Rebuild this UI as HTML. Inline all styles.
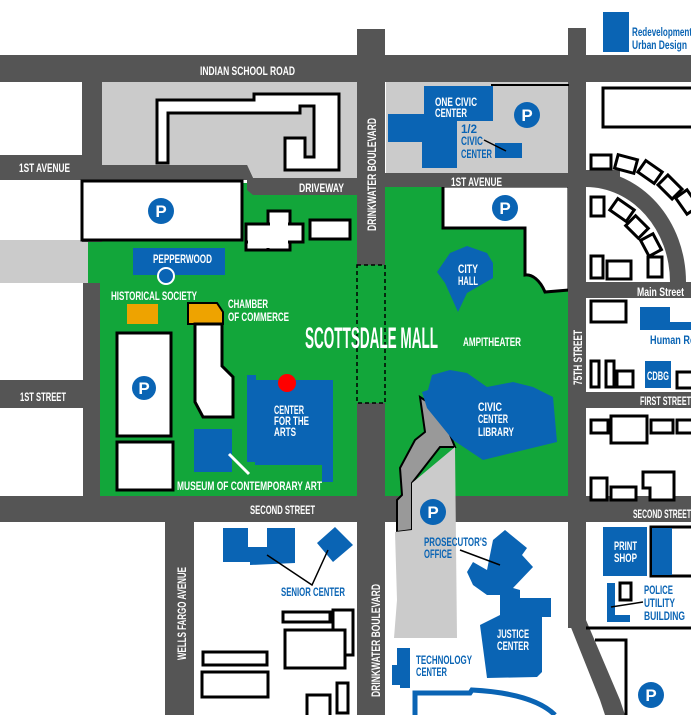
<!DOCTYPE html>
<html><head><meta charset="utf-8"><style>
html,body{margin:0;padding:0;background:#fff;}
svg{display:block;}
text{font-family:"Liberation Sans Narrow","Liberation Sans",sans-serif;font-weight:bold;}
.w{fill:#fff}.b{fill:#0a64b4}
.bl{fill:#fff;stroke:#000;stroke-width:3}
</style></head><body>
<svg width="691" height="715" viewBox="0 0 691 715" xmlns="http://www.w3.org/2000/svg">
<rect width="691" height="715" fill="#fff"/>
<!-- light gray areas -->
<rect x="0" y="240" width="90" height="43" fill="#cbcbcb"/>
<!-- green left -->
<rect x="88" y="183" width="270" height="313" fill="#12a63a"/>
<!-- green right -->
<polygon points="385,186 569,186 569,504 385,504" fill="#12a63a"/>
<path d="M443,186 L569,186 L569,290 L545,292 C540,280 532,274 525,275 L525,228 L443,228 Z" class="bl" stroke-width="2.5"/>
<!-- roads -->
<g fill="#555">
<rect x="0" y="55" width="691" height="27"/>
<rect x="357" y="29" width="28" height="686"/>
<rect x="568" y="28" width="18" height="600"/>
<polygon points="568,620 586,620 620,700 625,715 605,715 600,700"/>
<rect x="0" y="155" width="357" height="25"/>
<rect x="82" y="82" width="20" height="160"/>
<rect x="83" y="283" width="17" height="214"/>
<rect x="0" y="380" width="85" height="28"/>
<rect x="385" y="173" width="185" height="14"/>
<rect x="0" y="496" width="691" height="26"/>
<rect x="165" y="522" width="29" height="193"/>
<rect x="586" y="282" width="105" height="16"/>
<rect x="586" y="392" width="105" height="16"/>
<path d="M586,170 L586,187 A84,95 0 0 1 670,282 L686,282 A100,112 0 0 0 586,170 Z"/>
<polygon points="586,170 620,170 620,187 586,187"/>
</g>
<!-- light gray north-west block -->
<polygon points="102,82 357,82 357,178 253,178 247,165 102,165" fill="#cbcbcb"/>
<rect x="253" y="178" width="104" height="17" fill="#555"/>
<polygon points="247,165 253,178 253,195 247,190" fill="#555"/>
<rect x="386" y="82" width="182" height="91" fill="#cbcbcb"/>
<line x1="491" y1="85" x2="569" y2="85" stroke="#000" stroke-width="2"/>
<!-- top building outline -->
<path d="M157,100 L254,100 L254,94 L339,94 L339,170 L285,170 L285,138 L305,138 L305,157 L314,157 L314,106 L300,106 L300,113 L168,113 L168,163 L157,163 Z" class="bl"/>
<!-- parking -->
<rect x="82" y="181" width="160" height="59" class="bl"/>
<rect x="246" y="224" width="40" height="26" class="bl"/>
<rect x="268" y="211" width="22" height="39" class="bl"/>
<rect x="246" y="224" width="57" height="18" class="bl"/>
<rect x="248" y="226" width="40" height="22" fill="#fff"/>
<rect x="270" y="213" width="18" height="20" fill="#fff"/>
<rect x="310" y="220" width="40" height="19" class="bl"/>
<!-- pepperwood -->
<rect x="133" y="248" width="92" height="27" class="b"/>
<circle cx="166" cy="276" r="8" fill="#0a64b4" stroke="#fff" stroke-width="2"/>
<rect x="127" y="304" width="31" height="20" fill="#eea300"/>
<polygon points="188,303 217,303 223,312 223,324 188,324" fill="#eea300" stroke="#000" stroke-width="2"/>
<polygon points="195,324 222,324 222,366 233,377 233,417 203,417 195,402" class="bl"/>
<rect x="117" y="333" width="54" height="103" class="bl"/>
<rect x="117" y="442" width="56" height="48" class="bl"/>
<rect x="194" y="429" width="38" height="43" class="b"/>
<line x1="229" y1="454" x2="249" y2="474" stroke="#fff" stroke-width="3"/>
<polygon points="247,375 256,375 256,380 333,380 333,482 322,482 322,465 255,465 255,462 247,462" class="b"/>
<circle cx="287" cy="383" r="9" fill="#f00"/>
<!-- mall crossing -->
<rect x="357" y="265" width="28" height="138" fill="#12a63a" stroke="#000" stroke-width="1.5" stroke-dasharray="4,3"/>
<!-- one civic center -->
<polygon points="424,86 493,86 493,121 457,121 457,168 422,168 422,142 388,142 388,114 424,114" class="b"/>
<rect x="495" y="143" width="27" height="15" class="b"/>
<line x1="484" y1="140" x2="506" y2="151" stroke="#000" stroke-width="1.5"/>
<!-- city hall -->
<polygon points="437,272 450,253 467,246 487,253 493,263 493,278 467,293 458,312 445,283" class="b"/>
<!-- library/path -->
<polygon points="420,397 440,410 455,447 440,447 412,483 412,530 397,532 397,500 402,495 400,468 415,440 425,432" fill="#999" stroke="#000" stroke-width="2"/>
<polygon points="412,483 455,447 457,638 394,638 397,600 395,532 412,530" fill="#cbcbcb"/>
<polygon points="432,375 450,370 467,373 487,387 513,382 533,387 553,397 557,442 483,460 453,440 427,408 422,392 428,390" class="b"/>
<!-- prosecutor / justice -->
<polygon points="493,540 505,530 527,548 522,555 533,567 513,588 520,590 520,598 551,598 551,617 542,617 542,672 537,677 487,678 480,625 500,615 500,595 487,595 473,585 467,572 473,562 487,570" class="b"/>
<line x1="460" y1="550" x2="500" y2="565" stroke="#000" stroke-width="1.5"/>
<polygon points="397,648 410,648 410,688 400,688 400,685 392,685 392,665 397,665" class="b"/>
<path d="M415,715 L415,693 L470,693 L472,690 C510,692 540,700 555,715" fill="none" stroke="#0a64b4" stroke-width="5"/>
<!-- senior center -->
<polygon points="223,528 248,528 248,547 267,547 267,528 295,528 295,563 250,565 250,562 223,562" class="b"/>
<polygon points="335,527 353,545 333,562 317,543" class="b"/>
<polyline points="267,555 312,585 328,550" fill="none" stroke="#000" stroke-width="1.5"/>
<!-- bottom left buildings -->
<rect x="203" y="652" width="64" height="13" class="bl"/>
<rect x="202" y="672" width="66" height="25" class="bl"/>
<rect x="283" y="612" width="47" height="10" class="bl"/>
<rect x="333" y="610" width="20" height="45" class="bl"/>
<rect x="285" y="630" width="60" height="38" class="bl"/>
<rect x="307" y="695" width="23" height="22" class="bl"/>
<rect x="337" y="683" width="11" height="30" class="bl"/>
<!-- right side buildings -->
<rect x="603" y="12" width="26" height="40" class="b"/>
<rect x="603" y="88" width="92" height="39" class="bl"/>
<g class="bl">
<rect x="591" y="155" width="20" height="14" />
<rect x="616" y="157" width="20" height="14" transform="rotate(15 626 164)"/>
<rect x="640" y="165" width="20" height="14" transform="rotate(35 650 172)"/>
<rect x="660" y="180" width="20" height="14" transform="rotate(45 670 187)"/>
<rect x="677" y="195" width="20" height="14" transform="rotate(55 687 202)"/>
<rect x="591" y="197" width="13" height="19"/>
<rect x="612" y="203" width="20" height="14" transform="rotate(35 622 210)"/>
<rect x="628" y="220" width="18" height="14" transform="rotate(45 637 227)"/>
<rect x="642" y="238" width="18" height="14" transform="rotate(62 651 245)"/>
<rect x="648" y="257" width="14" height="20"/>
<rect x="591" y="256" width="12" height="22"/>
<rect x="607" y="261" width="24" height="18"/>
<rect x="591" y="301" width="35" height="21"/>
<rect x="591" y="361" width="8" height="26"/>
<rect x="606" y="361" width="8" height="26"/>
<rect x="617" y="371" width="16" height="16"/>
<rect x="677" y="372" width="20" height="16"/>
<rect x="591" y="420" width="17" height="13"/>
<rect x="611" y="416" width="36" height="27"/>
<rect x="651" y="420" width="22" height="13"/>
<rect x="677" y="420" width="20" height="13"/>
<rect x="591" y="478" width="16" height="22"/>
<rect x="611" y="487" width="25" height="13"/>
<polygon points="643,472 674,472 674,500 650,500 650,488 643,488"/>
<rect x="651" y="527" width="45" height="49"/>
<rect x="620" y="583" width="11" height="17"/>
</g>
<polygon points="640,307 670,307 670,322 691,322 691,330 640,330" class="b"/>
<rect x="645" y="361" width="26" height="27" class="b"/>
<rect x="603" y="527" width="44" height="49" class="b"/>
<rect x="652" y="528" width="20" height="47" class="b"/>
<polygon points="607,583 615,583 615,615 630,615 630,622 607,622" class="b"/>
<line x1="611" y1="607" x2="643" y2="602" stroke="#000" stroke-width="1.5"/>
<polyline points="586,628 691,628" fill="none" stroke="#000" stroke-width="3"/>
<polyline points="595,640 626,640 626,715" fill="none" stroke="#000" stroke-width="3"/>
<!-- P markers -->
<g>
<circle cx="161" cy="211" r="13" class="b"/><circle cx="144" cy="388" r="12" class="b"/>
<circle cx="527" cy="115" r="13" class="b"/><circle cx="505" cy="208" r="13" class="b"/>
<circle cx="433" cy="512" r="13" class="b"/><circle cx="651" cy="695" r="13" class="b"/>
</g>
<g fill="#fff" font-size="17" text-anchor="middle">
<text x="161" y="217">P</text><text x="144" y="394">P</text><text x="527" y="121">P</text>
<text x="505" y="214">P</text><text x="433" y="518">P</text><text x="651" y="701">P</text>
</g>
<!-- labels white -->
<g fill="#fff" font-size="12">
<text x="200" y="75" textLength="95" lengthAdjust="spacingAndGlyphs">INDIAN SCHOOL ROAD</text>
<text x="19" y="172" textLength="51" lengthAdjust="spacingAndGlyphs">1ST AVENUE</text>
<text x="299" y="192" textLength="45" lengthAdjust="spacingAndGlyphs">DRIVEWAY</text>
<text x="153" y="263" textLength="59" lengthAdjust="spacingAndGlyphs">PEPPERWOOD</text>
<text x="111" y="300" textLength="86" lengthAdjust="spacingAndGlyphs">HISTORICAL SOCIETY</text>
<text x="228" y="308" textLength="40" lengthAdjust="spacingAndGlyphs">CHAMBER</text>
<text x="228" y="321" textLength="61" lengthAdjust="spacingAndGlyphs">OF COMMERCE</text>
<text x="20" y="401" textLength="46" lengthAdjust="spacingAndGlyphs">1ST STREET</text>
<text x="274" y="414" textLength="30" lengthAdjust="spacingAndGlyphs">CENTER</text>
<text x="274" y="425" textLength="35" lengthAdjust="spacingAndGlyphs">FOR THE</text>
<text x="274" y="436" textLength="22" lengthAdjust="spacingAndGlyphs">ARTS</text>
<text x="177" y="490" textLength="145" lengthAdjust="spacingAndGlyphs">MUSEUM OF CONTEMPORARY ART</text>
<text x="250" y="514" textLength="65" lengthAdjust="spacingAndGlyphs">SECOND STREET</text>
<text x="435" y="106" textLength="42" lengthAdjust="spacingAndGlyphs">ONE CIVIC</text>
<text x="435" y="117" textLength="32" lengthAdjust="spacingAndGlyphs">CENTER</text>
<text x="451" y="186" textLength="51" lengthAdjust="spacingAndGlyphs">1ST AVENUE</text>
<text x="458" y="273" textLength="20" lengthAdjust="spacingAndGlyphs">CITY</text>
<text x="458" y="285" textLength="20" lengthAdjust="spacingAndGlyphs">HALL</text>
<text x="463" y="346" textLength="58" lengthAdjust="spacingAndGlyphs">AMPITHEATER</text>
<text x="637" y="296" textLength="47" lengthAdjust="spacingAndGlyphs">Main Street</text>
<text x="647" y="380" textLength="22" lengthAdjust="spacingAndGlyphs">CDBG</text>
<text x="640" y="405" textLength="51" lengthAdjust="spacingAndGlyphs">FIRST STREET</text>
<text x="478" y="411" textLength="24" lengthAdjust="spacingAndGlyphs">CIVIC</text>
<text x="478" y="423" textLength="30" lengthAdjust="spacingAndGlyphs">CENTER</text>
<text x="478" y="436" textLength="36" lengthAdjust="spacingAndGlyphs">LIBRARY</text>
<text x="633" y="518" textLength="58" lengthAdjust="spacingAndGlyphs">SECOND STREET</text>
<text x="614" y="550" textLength="23" lengthAdjust="spacingAndGlyphs">PRINT</text>
<text x="614" y="562" textLength="23" lengthAdjust="spacingAndGlyphs">SHOP</text>
<text x="497" y="638" textLength="32" lengthAdjust="spacingAndGlyphs">JUSTICE</text>
<text x="497" y="650" textLength="32" lengthAdjust="spacingAndGlyphs">CENTER</text>
<text transform="translate(186,660) rotate(-90)" textLength="93" lengthAdjust="spacingAndGlyphs">WELLS FARGO AVENUE</text>
<text transform="translate(376,231) rotate(-90)" textLength="113" lengthAdjust="spacingAndGlyphs">DRINKWATER  BOULEVARD</text>
<text transform="translate(380,697) rotate(-90)" textLength="113" lengthAdjust="spacingAndGlyphs">DRINKWATER  BOULEVARD</text>
<text transform="translate(582,385) rotate(-90)" textLength="55" lengthAdjust="spacingAndGlyphs">75TH STREET</text>
<text x="305" y="348" font-size="30" textLength="133" lengthAdjust="spacingAndGlyphs">SCOTTSDALE MALL</text>
</g>
<g fill="#0a64b4" font-size="12">
<text x="461" y="133" textLength="16" lengthAdjust="spacingAndGlyphs">1/2</text>
<text x="461" y="145" textLength="22" lengthAdjust="spacingAndGlyphs">CIVIC</text>
<text x="461" y="158" textLength="31" lengthAdjust="spacingAndGlyphs">CENTER</text>
<text x="281" y="596" textLength="64" lengthAdjust="spacingAndGlyphs">SENIOR CENTER</text>
<text x="424" y="546" textLength="63" lengthAdjust="spacingAndGlyphs">PROSECUTOR'S</text>
<text x="424" y="558" textLength="28" lengthAdjust="spacingAndGlyphs">OFFICE</text>
<text x="644" y="594" textLength="29" lengthAdjust="spacingAndGlyphs">POLICE</text>
<text x="644" y="607" textLength="31" lengthAdjust="spacingAndGlyphs">UTILITY</text>
<text x="644" y="620" textLength="41" lengthAdjust="spacingAndGlyphs">BUILDING</text>
<text x="416" y="664" textLength="56" lengthAdjust="spacingAndGlyphs">TECHNOLOGY</text>
<text x="416" y="676" textLength="31" lengthAdjust="spacingAndGlyphs">CENTER</text>
<text x="632" y="36" textLength="60" lengthAdjust="spacingAndGlyphs">Redevelopment</text>
<text x="632" y="49" textLength="55" lengthAdjust="spacingAndGlyphs">Urban Design</text>
<text x="650" y="344" textLength="45" lengthAdjust="spacingAndGlyphs">Human Re</text>
</g>
</svg>
</body></html>
